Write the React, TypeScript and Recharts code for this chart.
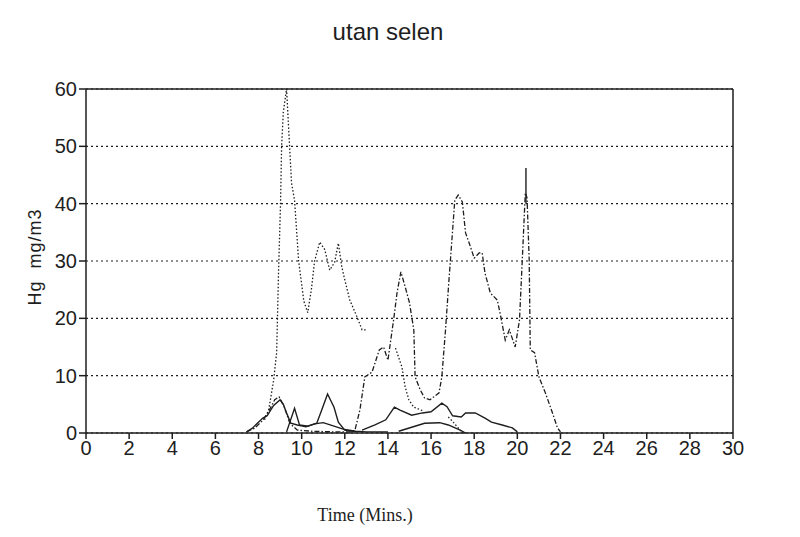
import React from 'react';
import { LineChart, Line, XAxis, YAxis, CartesianGrid, ReferenceLine } from 'recharts';

// x = time in minutes, y = Hg mg/m3 (null = gap in the trace)
const xTicks = [0, 2, 4, 6, 8, 10, 12, 14, 16, 18, 20, 22, 24, 26, 28, 30];
const yTicks = [0, 10, 20, 30, 40, 50, 60];

const dottedTrace = [
  { t: 8.28, v: 2.3 }, { t: 8.47, v: 4 }, { t: 8.7, v: 9.2 }, { t: 8.84, v: 14 },
  { t: 8.93, v: 28.4 }, { t: 9.02, v: 40 }, { t: 9.07, v: 50 }, { t: 9.15, v: 56 },
  { t: 9.3, v: 60 }, { t: 9.44, v: 50 }, { t: 9.53, v: 43.6 }, { t: 9.67, v: 40.6 },
  { t: 9.86, v: 30 }, { t: 10.1, v: 23 }, { t: 10.28, v: 21 }, { t: 10.45, v: 25 },
  { t: 10.6, v: 30 }, { t: 10.84, v: 33.3 }, { t: 11.07, v: 32 }, { t: 11.3, v: 28.4 },
  { t: 11.53, v: 29.8 }, { t: 11.7, v: 33.1 }, { t: 11.86, v: 29 }, { t: 12.0, v: 26.7 },
  { t: 12.23, v: 23.2 }, { t: 12.56, v: 20.3 }, { t: 12.8, v: 18 }, { t: 13.0, v: 18 },
  { t: 13.5, v: null },
  { t: 14.35, v: 14.8 }, { t: 14.65, v: 11.5 }, { t: 14.8, v: 8 }, { t: 14.97, v: 5.8 },
  { t: 15.2, v: 4.5 }, { t: 15.67, v: 3.8 },
  { t: 16.2, v: null },
  { t: 16.8, v: 2.8 }, { t: 17.0, v: 2.0 }, { t: 17.35, v: 0.5 }, { t: 17.5, v: 0 },
];

const dashDotTrace = [
  { t: 7.45, v: 0.2 }, { t: 7.8, v: 0.8 }, { t: 8.2, v: 2.2 }, { t: 8.5, v: 4 },
  { t: 8.75, v: 5.8 }, { t: 8.95, v: 6.3 }, { t: 9.2, v: 4.5 }, { t: 9.45, v: 1.7 },
  { t: 9.8, v: 0.5 }, { t: 10.5, v: 0.3 }, { t: 11.5, v: 0.2 }, { t: 12.3, v: 0.2 },
  { t: 12.47, v: 0.5 }, { t: 12.7, v: 4 }, { t: 12.93, v: 9.8 }, { t: 13.26, v: 10.6 },
  { t: 13.6, v: 14.5 }, { t: 13.8, v: 15 }, { t: 14.0, v: 12.7 }, { t: 14.28, v: 20.2 },
  { t: 14.42, v: 24.4 }, { t: 14.6, v: 28.1 }, { t: 14.8, v: 25.5 }, { t: 15.0, v: 22.7 },
  { t: 15.2, v: 18 }, { t: 15.26, v: 9.8 }, { t: 15.5, v: 7.5 }, { t: 15.7, v: 6.1 },
  { t: 15.95, v: 5.8 }, { t: 16.37, v: 7 }, { t: 16.5, v: 9.8 }, { t: 16.67, v: 18 },
  { t: 16.83, v: 26.7 }, { t: 17.0, v: 35.4 }, { t: 17.1, v: 40.6 }, { t: 17.26, v: 41.5 },
  { t: 17.45, v: 40.3 }, { t: 17.6, v: 34.9 }, { t: 17.77, v: 33.1 }, { t: 18.0, v: 30.5 },
  { t: 18.23, v: 31.4 }, { t: 18.37, v: 31.4 }, { t: 18.5, v: 27.9 }, { t: 18.75, v: 24.4 },
  { t: 19.07, v: 23.2 }, { t: 19.2, v: 20.9 }, { t: 19.44, v: 16.2 }, { t: 19.63, v: 18 },
  { t: 19.9, v: 15 }, { t: 20.1, v: 19.7 }, { t: 20.23, v: 30.2 }, { t: 20.37, v: 41.9 },
  { t: 20.45, v: 41 }, { t: 20.55, v: 30.2 }, { t: 20.6, v: 14.5 }, { t: 20.8, v: 14 },
  { t: 21.0, v: 9.8 }, { t: 21.3, v: 7 }, { t: 21.63, v: 3.5 }, { t: 21.86, v: 0.9 },
  { t: 22.0, v: 0.2 },
];

const solidEarly = [
  { t: 7.44, v: 0.2 }, { t: 7.7, v: 0.8 }, { t: 8.2, v: 2.6 }, { t: 8.4, v: 3.0 },
  { t: 8.7, v: 4.8 }, { t: 9.0, v: 5.8 }, { t: 9.15, v: 5 }, { t: 9.3, v: 3.5 },
  { t: 9.5, v: 1.7 }, { t: 9.8, v: 1.4 }, { t: 10.2, v: 1.1 }, { t: 10.6, v: 1.6 },
  { t: 11.0, v: 1.8 }, { t: 11.5, v: 1.2 }, { t: 12.0, v: 0.6 }, { t: 12.5, v: 0.3 },
  { t: 13.0, v: 0.2 }, { t: 14.0, v: 0.2 },
];

const solidSecond = [
  { t: 9.3, v: 0.2 }, { t: 9.67, v: 4.3 }, { t: 9.9, v: 1.4 }, { t: 10.3, v: 1.2 },
  { t: 10.7, v: 1.7 }, { t: 10.93, v: 4 }, { t: 11.2, v: 6.8 }, { t: 11.5, v: 4.5 },
  { t: 11.7, v: 1.9 }, { t: 12.0, v: 0.5 }, { t: 12.5, v: 0.2 },
];

const solidMiddle = [
  { t: 12.8, v: 0.5 }, { t: 13.4, v: 1.4 }, { t: 13.9, v: 2.3 }, { t: 14.3, v: 4.5 },
  { t: 14.56, v: 4 }, { t: 15.1, v: 3.1 }, { t: 15.6, v: 3.5 }, { t: 16.0, v: 3.7 },
  { t: 16.5, v: 5.2 }, { t: 16.74, v: 4.6 }, { t: 17.0, v: 3.0 }, { t: 17.4, v: 2.8 },
  { t: 17.6, v: 3.5 }, { t: 18.05, v: 3.5 }, { t: 18.5, v: 2.6 }, { t: 18.8, v: 1.9 },
  { t: 19.3, v: 1.4 }, { t: 19.77, v: 0.9 }, { t: 20.0, v: 0.2 },
];

const solidLow = [
  { t: 14.5, v: 0.3 }, { t: 15.1, v: 1 }, { t: 15.7, v: 1.7 }, { t: 16.4, v: 1.8 },
  { t: 16.8, v: 1.4 }, { t: 17.35, v: 0.5 }, { t: 17.6, v: 0 },
];

const solidSpike = [
  { t: 20.4, v: 40 }, { t: 20.4, v: 46.2 },
];

const ink = '#1e1e1e';
const tickStyle = { fill: ink, fontSize: 20, fontFamily: 'Liberation Sans, Arial, sans-serif' };

export default function App() {
  return (
    <div style={{ position: 'absolute', left: 0, top: 0, width: 800, height: 537, background: '#fff' }}>
      <div style={{ position: 'absolute', left: 0, width: 776, top: 18, textAlign: 'center', fontSize: 24, fontFamily: 'Liberation Sans, Arial, sans-serif', color: ink }}>
        utan selen
      </div>
      <div style={{ position: 'absolute', left: 0, width: 730, top: 505, textAlign: 'center', fontSize: 18, fontFamily: 'Liberation Serif, Times New Roman, serif', color: ink }}>
        Time (Mins.)
      </div>
      <div style={{ position: 'absolute', left: 35, top: 257, width: 0, height: 0 }}>
        <div style={{ position: 'absolute', left: 0, top: 0, transform: 'translate(-50%, -50%) rotate(-90deg)', whiteSpace: 'pre', letterSpacing: 1, fontSize: 18, fontFamily: 'Liberation Sans, Arial, sans-serif', color: ink }}>
          {'Hg  mg/m3'}
        </div>
      </div>
      <LineChart width={800} height={537} margin={{ top: 89, right: 67, left: 26, bottom: 74 }}>
        <CartesianGrid horizontal vertical={false} stroke={ink} strokeDasharray="2 3" strokeWidth={1.2} />
        <XAxis
          type="number"
          dataKey="t"
          domain={[0, 30]}
          ticks={xTicks}
          allowDuplicatedCategory={false}
          height={30}
          tickSize={6}
          tick={tickStyle}
          stroke={ink}
          strokeWidth={1.5}
        />
        <YAxis
          type="number"
          domain={[0, 60]}
          ticks={yTicks}
          width={60}
          tickSize={7}
          tick={tickStyle}
          stroke={ink}
          strokeWidth={1.5}
        />
        <ReferenceLine y={60} stroke={ink} strokeWidth={1.6} />
        <ReferenceLine x={30} stroke={ink} strokeWidth={1.5} />
        <Line data={dottedTrace} dataKey="v" type="linear" stroke={ink} strokeWidth={1.3} strokeDasharray="1.5 2" dot={false} connectNulls={false} isAnimationActive={false} />
        <Line data={dashDotTrace} dataKey="v" type="linear" stroke={ink} strokeWidth={1.3} strokeDasharray="5 2 1.5 2" dot={false} isAnimationActive={false} />
        <Line data={solidEarly} dataKey="v" type="linear" stroke={ink} strokeWidth={1.4} dot={false} isAnimationActive={false} />
        <Line data={solidSecond} dataKey="v" type="linear" stroke={ink} strokeWidth={1.4} dot={false} isAnimationActive={false} />
        <Line data={solidMiddle} dataKey="v" type="linear" stroke={ink} strokeWidth={1.4} dot={false} isAnimationActive={false} />
        <Line data={solidLow} dataKey="v" type="linear" stroke={ink} strokeWidth={1.4} dot={false} isAnimationActive={false} />
        <Line data={solidSpike} dataKey="v" type="linear" stroke={ink} strokeWidth={1.4} dot={false} isAnimationActive={false} />
      </LineChart>
    </div>
  );
}
